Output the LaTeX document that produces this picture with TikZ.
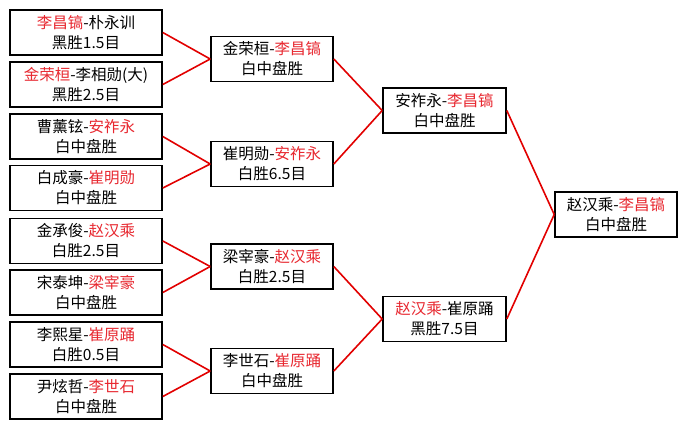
\documentclass[tikz,border=0pt]{standalone}
\usepackage{fontspec}
\newfontfamily\cjk{Noto Sans CJK SC}
\definecolor{winred}{RGB}{232,40,48}
\definecolor{linered}{RGB}{226,0,0}
\newcommand{\rn}[1]{\textcolor{winred}{#1}}
\begin{document}
\begin{tikzpicture}[x=1pt,y=-1pt,
  game/.style={draw=black,line width=1.6pt,fill=white,minimum height=45pt,inner sep=0pt,
    align=center,font=\cjk\fontsize{15.5}{20}\selectfont},
  g1/.style={game,minimum width=152pt},
  g2/.style={game,minimum width=122pt},
  link/.style={draw=linered,line width=1.6pt}]
\fill[white] (0,0) rectangle (688,429);
\useasboundingbox (0,0) rectangle (688,429);
% round 1
\node[g1] (a1) at (86,32.5) {\rn{李昌镐}-朴永训\\黑胜1.5目};
\node[g1] (a2) at (86,84.5) {\rn{金荣桓}-李相勋(大)\\黑胜2.5目};
\node[g1] (a3) at (86,136.5) {曹薰铉-\rn{安祚永}\\白中盘胜};
\node[g1] (a4) at (86,188) {白成豪-\rn{崔明勋}\\白中盘胜};
\node[g1] (a5) at (86,241) {金承俊-\rn{赵汉乘}\\白胜2.5目};
\node[g1] (a6) at (86,292.5) {宋泰坤-\rn{梁宰豪}\\白中盘胜};
\node[g1] (a7) at (86,344.5) {李熙星-\rn{崔原踊}\\白胜0.5目};
\node[g1] (a8) at (86,396.5) {尹炫哲-\rn{李世石}\\白中盘胜};
% round 2
\node[g2] (b1) at (272,59) {金荣桓-\rn{李昌镐}\\白中盘胜};
\node[g2] (b2) at (272,164) {崔明勋-\rn{安祚永}\\白胜6.5目};
\node[g2] (b3) at (272,266.5) {梁宰豪-\rn{赵汉乘}\\白胜2.5目};
\node[g2] (b4) at (272,371) {李世石-\rn{崔原踊}\\白中盘胜};
% round 3
\node[g2,minimum width=123pt] (c1) at (444.5,110.5) {安祚永-\rn{李昌镐}\\白中盘胜};
\node[g2,minimum width=123pt] (c2) at (444.5,319) {\rn{赵汉乘}-崔原踊\\黑胜7.5目};
% final
\node[g2] (d1) at (616,214.5) {赵汉乘-\rn{李昌镐}\\白中盘胜};
% connectors
\draw[link] (a1.east) -- (b1.west);
\draw[link] (a2.east) -- (b1.west);
\draw[link] (a3.east) -- (b2.west);
\draw[link] (a4.east) -- (b2.west);
\draw[link] (a5.east) -- (b3.west);
\draw[link] (a6.east) -- (b3.west);
\draw[link] (a7.east) -- (b4.west);
\draw[link] (a8.east) -- (b4.west);
\draw[link] (b1.east) -- (c1.west);
\draw[link] (b2.east) -- (c1.west);
\draw[link] (b3.east) -- (c2.west);
\draw[link] (b4.east) -- (c2.west);
\draw[link] (c1.east) -- (d1.west);
\draw[link] (c2.east) -- (d1.west);
\end{tikzpicture}
\end{document}
